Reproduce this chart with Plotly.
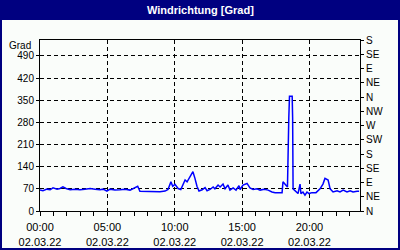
import plotly.graph_objects as go

# time of day (HH:MM) and wind direction in degrees, 02.03.2022
times = ["00:00","00:13","00:31","00:45","00:58","01:16","01:29","01:42","01:56","02:14",
         "02:36","02:58","03:20","03:43","04:05","04:27","04:41","04:58","05:12","05:34",
         "05:56","06:19","06:41","07:03","07:15","07:25","07:39","07:52","08:10","08:32",
         "08:54","09:17","09:30","09:43","09:51","10:01","10:15","10:27","10:37","10:46",
         "10:55","11:04","11:17","11:21","11:30","11:39","11:48","12:02","12:15","12:24",
         "12:37","12:51","12:59","13:13","13:22","13:35","13:44","13:57","14:06","14:20",
         "14:33","14:46","14:51","15:04","15:22","15:35","15:49","16:06","16:20","16:38",
         "16:56","17:13","17:27","17:58","18:02","18:11","18:22","18:28","18:31","18:43",
         "18:45","18:47","18:56","19:09","19:18","19:22","19:31","19:40","19:49","19:58",
         "20:11","20:29","20:47","21:00","21:09","21:23","21:32","21:45","22:03","22:16",
         "22:30","22:47","23:01","23:14","23:32","23:41"]
values = [66,64,69,67,73,69,71,76,71,67,
          69,67,69,71,69,67,69,63,69,66,
          67,69,66,73,78,62,62,61,60,62,
          61,63,68,92,78,84,71,68,82,98,
          92,103,119,124,103,78,63,67,74,64,
          68,76,70,82,76,85,70,82,66,73,
          66,80,68,82,87,73,68,70,66,69,
          66,60,58,58,92,85,76,295,362,362,
          295,70,64,55,85,55,60,50,60,55,
          58,58,70,85,103,98,70,60,64,60,
          66,60,64,60,62,62]

left_ticks = [0, 70, 140, 210, 280, 350, 420, 490]
compass_vals = [0, 45, 90, 135, 180, 225, 270, 315, 360, 405, 450, 495, 540]
compass_text = ["N", "NE", "E", "SE", "S", "SW", "W", "NW", "N", "NE", "E", "SE", "S"]
date = "2022-03-02"
title_text = "Windrichtung [Grad]"
unit_text = "Grad"

x = [f"{date} {t}" for t in times]

NAVY = "#000080"
BG = "#FAFDFA"
FONT = "Liberation Sans"

fig = go.Figure()
fig.add_trace(go.Scatter(x=x, y=values, mode="lines",
                         line=dict(color="#0000FF", width=1.5),
                         showlegend=False, hoverinfo="skip"))
fig.add_trace(go.Scatter(x=[x[0]], y=[None], yaxis="y2", mode="lines",
                         showlegend=False, hoverinfo="skip"))

fig.update_layout(
    width=400, height=250,
    margin=dict(l=40, r=40, t=40, b=39, autoexpand=False),
    paper_bgcolor=BG, plot_bgcolor=BG,
    font=dict(family=FONT, size=10, color="black"),
    xaxis=dict(
        type="date", automargin=False,
        range=[f"{date} 00:00", f"{date} 23:45"],
        tick0=f"{date} 00:00", dtick=5 * 3600000,
        tickformat="%H:%M<br>%d.%m.%y",
        ticks="outside", ticklen=4, tickcolor="black",
        ticklabelstandoff=2,
        tickfont=dict(family=FONT, size=11),
        minor=dict(dtick=3600000, ticks="outside", ticklen=4, tickcolor="black", showgrid=False),
        showgrid=True, gridcolor="black", griddash="4px,3px", gridwidth=1,
        showline=True, linecolor="black", linewidth=1, mirror=True,
        zeroline=False, fixedrange=True,
    ),
    yaxis=dict(
        range=[0, 540], tickvals=left_ticks, automargin=False,
        ticks="outside", ticklen=3, tickcolor="black",
        showgrid=True, gridcolor="black", griddash="4px,3px", gridwidth=1,
        showline=True, linecolor="black", linewidth=1,
        zeroline=False, fixedrange=True,
    ),
    yaxis2=dict(
        range=[0, 540], overlaying="y", side="right", automargin=False,
        tickvals=compass_vals, ticktext=compass_text,
        ticks="outside", ticklen=3, tickcolor="black",
        showgrid=False, showline=True, linecolor="black", linewidth=1,
        zeroline=False, fixedrange=True,
    ),
    shapes=[
        dict(type="rect", xref="paper", yref="paper",
             x0=-40/320, x1=360/320, y0=191/171, y1=211/171,
             fillcolor=NAVY, line=dict(width=0), layer="above"),
        dict(type="rect", xref="paper", yref="paper",
             x0=-39/320, x1=359/320, y0=-38/171, y1=210/171,
             fillcolor="rgba(0,0,0,0)", line=dict(color=NAVY, width=2), layer="above"),
    ],
    annotations=[
        dict(text=f"<b>{title_text}</b>", xref="paper", yref="paper",
             x=0.5, y=201/171, xanchor="center", yanchor="middle",
             showarrow=False, font=dict(family=FONT, size=11, color="white")),
        dict(text=unit_text, xref="paper", yref="paper",
             x=-7/320, y=(211-45)/171, xanchor="right", yanchor="middle",
             showarrow=False, font=dict(family=FONT, size=10, color="black")),
    ],
)

fig.write_html("out.html")
